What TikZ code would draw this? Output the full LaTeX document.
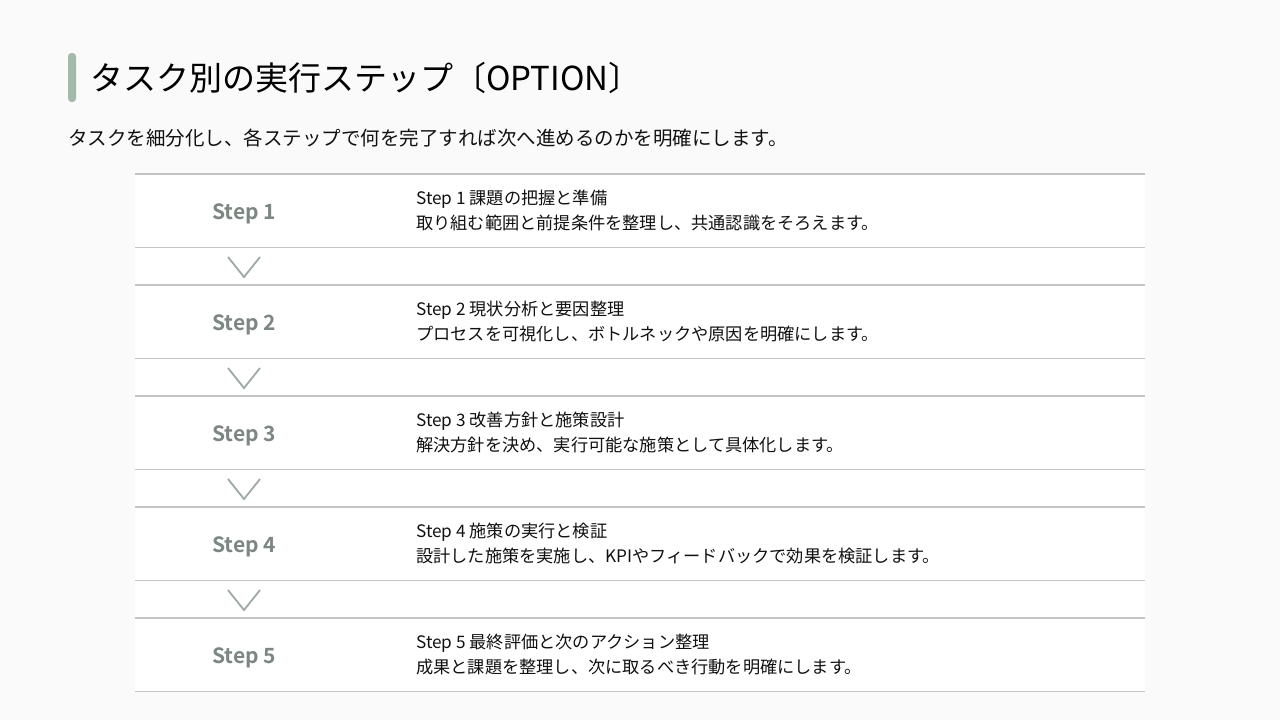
\documentclass[tikz,border=0pt]{standalone}
\usepackage{fontspec}
\setmainfont{Noto Sans CJK JP}[BoldFont={Noto Sans CJK JP Bold}]
\definecolor{bg}{HTML}{FAFAFA}
\definecolor{accent}{HTML}{A5B9AB}
\definecolor{rule}{HTML}{C4C4C4}
\definecolor{steplbl}{HTML}{7D8782}
\definecolor{chev}{HTML}{A0ABA5}
\definecolor{ink}{HTML}{111111}
\tikzset{
  rowrule/.style={draw=rule, line width=1.9pt},
  chevron/.style={draw=chev, line width=1.8pt},
  steplabel/.style={font=\bfseries\fontsize{21}{25}\selectfont, text=steplbl, inner sep=0pt},
  steptitle/.style={anchor=base west, font=\fontsize{17.2}{20}\selectfont, text=ink, inner sep=0pt},
  stepdesc/.style={anchor=base west, font=\fontsize{17.2}{20}\selectfont, text=ink, inner sep=0pt}
}
\begin{document}
\begin{tikzpicture}[x=1pt,y=-1pt]
\useasboundingbox (0,0) rectangle (1280,720);
\fill[bg] (0,0) rectangle (1280,720);
\fill[white] (135,174) rectangle (1145,692);
\fill[accent, rounded corners=3.5pt] (68,53) rectangle (76,102);
\node[anchor=base west, font=\fontsize{33}{38}\selectfont, text=black, inner sep=0pt] (title) at (90,90) {タスク別の実行ステップ〔OPTION〕};
\node[anchor=base west, font=\fontsize{19.5}{23}\selectfont, text=ink, inner sep=0pt] (subtitle) at (68,145) {タスクを細分化し、各ステップで何を完了すれば次へ進めるのかを明確にします。};
\foreach \i/\ttl/\dsc in {
  0/{Step 1 課題の把握と準備}/{取り組む範囲と前提条件を整理し、共通認識をそろえます。},
  1/{Step 2 現状分析と要因整理}/{プロセスを可視化し、ボトルネックや原因を明確にします。},
  2/{Step 3 改善方針と施策設計}/{解決方針を決め、実行可能な施策として具体化します。},
  3/{Step 4 施策の実行と検証}/{設計した施策を実施し、KPIやフィードバックで効果を検証します。},
  4/{Step 5 最終評価と次のアクション整理}/{成果と課題を整理し、次に取るべき行動を明確にします。}}{
  \pgfmathsetmacro{\rowtop}{174+111*\i}
  \pgfmathtruncatemacro{\n}{\i+1}
  \draw[rowrule] (135,\rowtop) -- (1145,\rowtop);
  \draw[rowrule] (135,\rowtop+73.5) -- (1145,\rowtop+73.5);
  \node[steplabel] (lbl\n) at (244,\rowtop+40) {Step \n};
  \node[steptitle] (ttl\n) at (416,\rowtop+30) {\ttl};
  \node[stepdesc] (dsc\n) at (416,\rowtop+55) {\dsc};
}
\foreach \i in {0,...,3}{
  \pgfmathsetmacro{\rowtop}{174+111*\i}
  \draw[chevron] (228,\rowtop+83) -- (244,\rowtop+103) -- (260,\rowtop+83);
}
\end{tikzpicture}
\end{document}
